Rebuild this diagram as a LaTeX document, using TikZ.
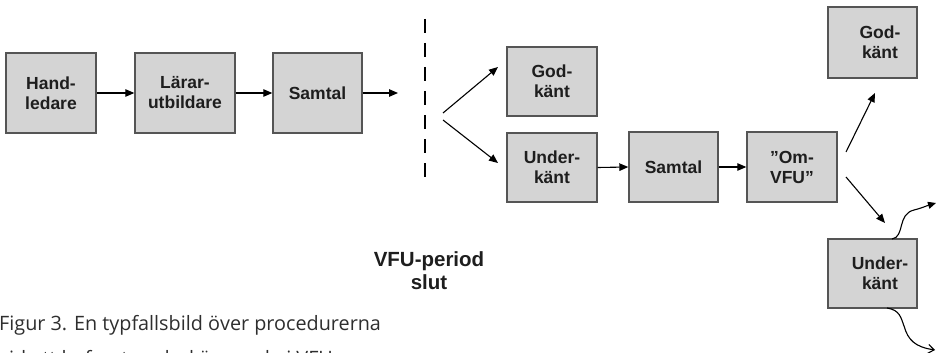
\documentclass[tikz,border=0pt]{standalone}
\usepackage{fontspec}
\setmainfont{Liberation Sans}
\newfontfamily\capfont{Open Sans}
\usetikzlibrary{arrows.meta}
\definecolor{boxfill}{HTML}{D4D4D4}
\definecolor{boxline}{HTML}{555555}
\definecolor{boxtext}{HTML}{1E1E1E}
\definecolor{captext}{HTML}{2E2E2E}
\tikzset{
  stepbox/.style={draw=boxline, fill=boxfill, line width=1.4pt, rectangle, text=boxtext,
    inner sep=0pt, align=center, font=\fontsize{17.5}{20}\selectfont\bfseries},
  arr/.style={line width=1.1pt, -{Triangle[length=9pt,width=7.5pt]}},
  wavearr/.style={line width=1.1pt, -{Straight Barb[length=6pt,width=9pt,line width=1.1pt]}},
  capline/.style={font=\capfont\fontsize{19.8}{24}\selectfont, text=captext, anchor=base west, inner sep=0pt},
}
\begin{document}
\begin{tikzpicture}[x=1pt,y=-1pt]
\clip (0,0) rectangle (937,353);
\useasboundingbox (0,0) rectangle (937,353);

% first row: before the end of the period
\node[stepbox, minimum width=90pt, minimum height=80pt] (hand) at (51,93) {Hand-\\ledare};
\node[stepbox, minimum width=100pt, minimum height=80pt] (larar) at (185,93) {Lärar-\\utbildare};
\node[stepbox, minimum width=89pt, minimum height=80pt] (samtal1) at (317.5,93) {Samtal};
\coordinate (s1end) at (398,93);

\draw[arr] (hand.east) -- (larar.west);
\draw[arr] (larar.east) -- (samtal1.west);
\draw[arr] (samtal1.east) -- (s1end);

% end of the period
\coordinate (dtop) at (425,19);
\coordinate (dbot) at (425,178);
\draw[line width=1.4pt, dash pattern=on 14pt off 10pt] (dtop) -- (dbot);
\node[font=\fontsize{20.5}{23}\selectfont\bfseries, text=boxtext, align=center] (slut) at (429,271) {VFU-period\\slut};

% outcomes
\node[stepbox, minimum width=90pt, minimum height=69pt] (god1) at (552,81.5) {God-\\känt};
\node[stepbox, minimum width=90pt, minimum height=69pt] (under1) at (552,167.5) {Under-\\känt};
\coordinate (b1) at (443,113);
\coordinate (b2) at (443,120);
\coordinate (b1e) at (498,67);
\coordinate (b2e) at (498,163);
\draw[arr] (b1) -- (b1e);
\draw[arr] (b2) -- (b2e);

\node[stepbox, minimum width=89pt, minimum height=70pt] (samtal2) at (673.5,167) {Samtal};
\node[stepbox, minimum width=90pt, minimum height=70pt] (omvfu) at (792,167) {”Om-\\VFU”};
\draw[arr] (under1.east) -- (samtal2.west);
\draw[arr] (samtal2.east) -- (omvfu.west);

% result of the renewed period
\node[stepbox, minimum width=89pt, minimum height=71pt, text width=89pt] (god2) at (872.5,42.5) {\hspace*{15pt}God-\\\hspace*{15pt}känt};
\node[stepbox, minimum width=89pt, minimum height=69pt, text width=89pt] (under2) at (872.5,273.5) {\hspace*{15pt}Under-\\\hspace*{15pt}känt};
\coordinate (o1) at (846,152);
\coordinate (o2) at (846,177);
\coordinate (o1e) at (875,93);
\coordinate (o2e) at (885,223);
\draw[arr] (o1) -- (o1e);
\draw[arr] (o2) -- (o2e);

% ways onward
\coordinate (w1s) at (892,239);
\coordinate (w1e) at (936,203);
\coordinate (w2s) at (887,308);
\coordinate (w2e) at (935,350);
\draw[line width=1.1pt, -{Triangle[length=8pt,width=7pt]}]
  (w1s) .. controls (905,237) and (897,214) .. (914,210)
        .. controls (922,208) and (926,206) .. (w1e);
\draw[wavearr]
  (w2s) .. controls (900,310) and (901,318) .. (904,326)
        .. controls (908,340) and (915,347) .. (w2e);

% caption; its second line runs past the lower edge of the page
\node[capline] (cap1) at (-1,330) {Figur 3. En typfallsbild över procedurerna};
\node[capline] (cap2) at (-1,365) {vid ett befarat underkännande i VFU};
\end{tikzpicture}
\end{document}
